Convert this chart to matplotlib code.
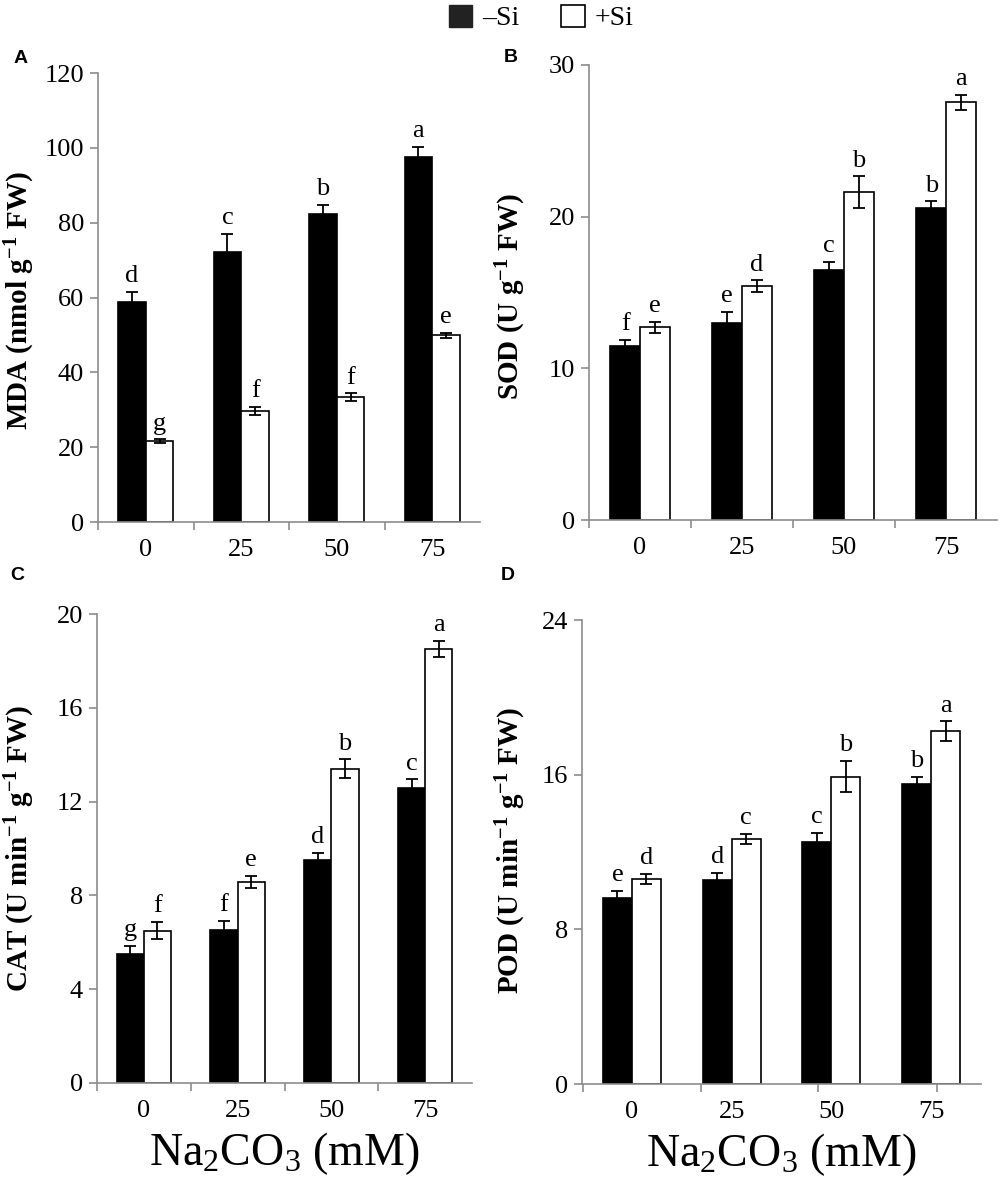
import numpy as np
import matplotlib
matplotlib.use('Agg')
import matplotlib.pyplot as plt
from matplotlib.patches import Patch
from matplotlib.ticker import FixedLocator, MultipleLocator

plt.rcParams['font.family'] = 'Liberation Serif'
plt.rcParams['mathtext.fontset'] = 'custom'
plt.rcParams['mathtext.rm'] = 'Liberation Serif'
plt.rcParams['mathtext.it'] = 'Liberation Serif:italic'
plt.rcParams['mathtext.bf'] = 'Liberation Serif:bold'

# data
conc = ['0', '25', '50', '75']

mda_minus = [58.8, 72.2, 82.3, 97.5]
mda_minus_err = [2.7, 4.8, 2.4, 2.7]
mda_plus = [21.6, 29.7, 33.4, 49.9]
mda_plus_err = [0.5, 1.0, 1.0, 0.6]
mda_minus_let = ['d', 'c', 'b', 'a']
mda_plus_let = ['g', 'f', 'f', 'e']

sod_minus = [11.5, 13.0, 16.5, 20.6]
sod_minus_err = [0.4, 0.7, 0.5, 0.4]
sod_plus = [12.7, 15.4, 21.6, 27.55]
sod_plus_err = [0.35, 0.4, 1.05, 0.5]
sod_minus_let = ['f', 'e', 'c', 'b']
sod_plus_let = ['e', 'd', 'b', 'a']

cat_minus = [5.5, 6.52, 9.5, 12.6]
cat_minus_err = [0.35, 0.4, 0.3, 0.35]
cat_plus = [6.5, 8.57, 13.4, 18.5]
cat_plus_err = [0.37, 0.26, 0.4, 0.35]
cat_minus_let = ['g', 'f', 'd', 'c']
cat_plus_let = ['f', 'e', 'b', 'a']

pod_minus = [9.6, 10.55, 12.5, 15.5]
pod_minus_err = [0.4, 0.37, 0.5, 0.4]
pod_plus = [10.6, 12.67, 15.9, 18.26]
pod_plus_err = [0.27, 0.26, 0.8, 0.5]
pod_minus_let = ['e', 'd', 'c', 'b']
pod_plus_let = ['d', 'c', 'b', 'a']

axcol = '#8c8c8c'
bw = 0.29
tsize = 19

fig = plt.figure(figsize=(10, 11.96), dpi=100)

def drawPanel(rect, minus, minus_err, plus, plus_err, mlet, plet, ymax, ystep,
              ylabel, ylab_xy, panel, panel_xy, sep_ticks=None, xlabel=False):
    ax = fig.add_axes(rect)
    x = np.arange(len(conc))
    ax.bar(x - bw/2, minus, bw, color='black', edgecolor='black', lw=1.2, zorder=2)
    ax.bar(x + bw/2, plus, bw, color='white', edgecolor='black', lw=1.2, zorder=2)
    ax.errorbar(x - bw/2, minus, yerr=minus_err, fmt='none', ecolor='black',
                elinewidth=1.3, capsize=4, capthick=1.3, zorder=3)
    ax.errorbar(x + bw/2, plus, yerr=plus_err, fmt='none', ecolor='black',
                elinewidth=1.3, capsize=4, capthick=1.3, zorder=3)
    for i in range(len(conc)):
        ax.annotate(mlet[i], xy=(x[i] - bw/2, minus[i] + minus_err[i]), xytext=(0, 7),
                    textcoords='offset points', ha='center', va='baseline', fontsize=tsize)
        ax.annotate(plet[i], xy=(x[i] + bw/2, plus[i] + plus_err[i]), xytext=(0, 7),
                    textcoords='offset points', ha='center', va='baseline', fontsize=tsize)

    ax.set_xlim(-0.5, 3.5)
    ax.set_ylim(0, ymax)
    ax.yaxis.set_major_locator(MultipleLocator(ystep))
    ax.set_xticks(x)
    ax.set_xticklabels(conc)
    if sep_ticks is None:
        sep_ticks = [-0.5, 0.5, 1.5, 2.5]
    ax.xaxis.set_minor_locator(FixedLocator(sep_ticks))
    ax.tick_params(axis='x', which='major', length=0, pad=12, labelsize=tsize)
    ax.tick_params(axis='x', which='minor', length=6, width=1.2, color=axcol, direction='out')
    ax.tick_params(axis='y', which='major', length=6, width=1.2, color=axcol,
                   direction='out', labelsize=tsize, pad=4)
    for s in ('top', 'right'):
        ax.spines[s].set_visible(False)
    for s in ('left', 'bottom'):
        ax.spines[s].set_color(axcol)
        ax.spines[s].set_linewidth(1.2)

    fig.text(ylab_xy[0], ylab_xy[1], ylabel, rotation=90, ha='center', va='center',
             fontsize=21, fontweight='bold')
    fig.text(panel_xy[0], panel_xy[1], panel, ha='center', va='center',
             fontsize=14, fontweight='bold', family='Liberation Sans')
    if xlabel:
        ax.set_xlabel(r'Na$_2$CO$_3$ (mM)', fontsize=33, labelpad=6)
    return ax

drawPanel([0.098, 0.5635, 0.382, 0.3754], mda_minus, mda_minus_err, mda_plus, mda_plus_err,
          mda_minus_let, mda_plus_let, 120, 20,
          r'MDA (nmol g$^{\mathbf{-1}}$ FW)', (0.020, 0.749), 'A', (0.021, 0.951))
drawPanel([0.589, 0.5652, 0.408, 0.3805], sod_minus, sod_minus_err, sod_plus, sod_plus_err,
          sod_minus_let, sod_plus_let, 30, 10,
          r'SOD (U g$^{\mathbf{-1}}$ FW)', (0.511, 0.752), 'B', (0.511, 0.952))
drawPanel([0.097, 0.0945, 0.375, 0.3921], cat_minus, cat_minus_err, cat_plus, cat_plus_err,
          cat_minus_let, cat_plus_let, 20, 4,
          r'CAT (U min$^{\mathbf{-1}}$ g$^{\mathbf{-1}}$ FW)', (0.020, 0.291), 'C', (0.017, 0.519),
          xlabel=True)
drawPanel([0.582, 0.0936, 0.399, 0.3880], pod_minus, pod_minus_err, pod_plus, pod_plus_err,
          pod_minus_let, pod_plus_let, 24, 8,
          r'POD (U min$^{\mathbf{-1}}$ g$^{\mathbf{-1}}$ FW)', (0.511, 0.289), 'D', (0.508, 0.519),
          sep_ticks=[-0.49, 0.69, 1.87, 3.06], xlabel=True)

handles = [Patch(facecolor='#222222', edgecolor='#222222', lw=1.0),
           Patch(facecolor='white', edgecolor='black', lw=1.2)]
fig.legend(handles, ['\u2013Si', '+Si'], loc='center', bbox_to_anchor=(0.541, 0.985),
           ncol=2, frameon=False, fontsize=20, handlelength=0.85, handleheight=0.85,
           handletextpad=0.35, columnspacing=1.5, borderpad=0.1)

fig.savefig('out.png', dpi=100)
